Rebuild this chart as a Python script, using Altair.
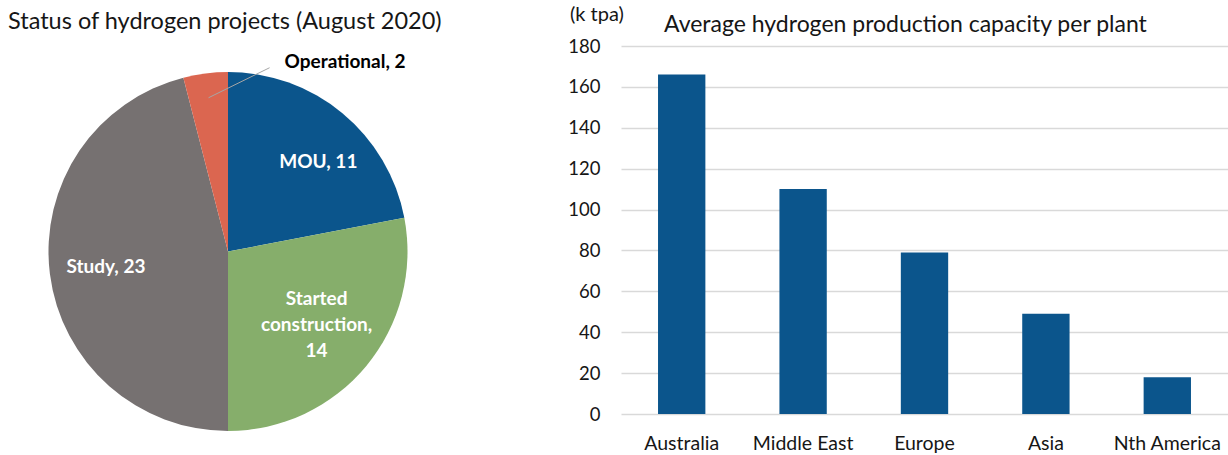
import altair as alt
import numpy as np
import pandas as pd

# ---- data -------------------------------------------------------------
statuses = ["MOU", "Started construction", "Study", "Operational"]
project_counts = [11, 14, 23, 2]
status_colors = ["#0B558C", "#86AE6B", "#767171", "#DB6650"]

regions = ["Australia", "Middle East", "Europe", "Asia", "Nth America"]
capacity_ktpa = [166, 110, 79, 49, 18]
y_ticks = [0, 20, 40, 60, 80, 100, 120, 140, 160, 180]

pie_title = "Status of hydrogen projects (August 2020)"
bar_title = "Average hydrogen production capacity per plant"
bar_unit = "(k tpa)"

# ---- layout -----------------------------------------------------------
FONT = "Lato"
TEXT = "#161616"
PLOT_LEFT, PLOT_TOP = 621, 46          # bar plot area origin on the page
PLOT_W, PLOT_H = 607, 368
PIE_CX, PIE_CY, PIE_R = 228, 251.5, 179.5


def px(x):
    return x - PLOT_LEFT


def py(y):
    return y - PLOT_TOP


def label_for(status, count):
    if status == "Started construction":
        return status.replace(" ", "\n") + ",\n" + str(count)
    return f"{status}, {count}"


pie_df = pd.DataFrame({
    "status": statuses,
    "count": project_counts,
    "order": list(range(len(statuses))),
    "label": [label_for(s, c) for s, c in zip(statuses, project_counts)],
})
bar_df = pd.DataFrame({"region": regions, "capacity": capacity_ktpa})
one_row = pd.DataFrame({"k": [0]})

total = float(sum(project_counts))

# ---- pie --------------------------------------------------------------
pie = alt.Chart(pie_df).mark_arc(outerRadius=PIE_R).encode(
    theta=alt.Theta("count:Q", stack=True),
    color=alt.Color("status:N",
                    scale=alt.Scale(domain=statuses, range=status_colors),
                    legend=None),
    order=alt.Order("order:Q"),
    x=alt.value(px(PIE_CX)),
    y=alt.value(py(PIE_CY)),
)


def slice_label(status, radius, dx=0, dy=0):
    """White bold label placed at the angular middle of one slice."""
    return (
        alt.Chart(pie_df)
        .transform_window(cum="sum(count)", sort=[alt.SortField("order")])
        .transform_calculate(mid="datum.cum - datum.count / 2")
        .transform_filter(alt.datum.status == status)
        .mark_text(radius=radius, dx=dx, dy=dy, font=FONT, fontSize=19,
                   fontWeight="bold", color="white", align="center",
                   baseline="middle", lineBreak="\n", lineHeight=26)
        .encode(
            theta=alt.Theta("mid:Q"),
            text="label:N",
            x=alt.value(px(PIE_CX)),
            y=alt.value(py(PIE_CY)),
        )
    )


labels = [
    slice_label("MOU", 126, dx=10, dy=8),
    # three-line label: shift up so the block is centred on the slice
    slice_label("Started construction", 115, dy=-26),
    slice_label("Study", 123),
]

# leader line + outside label for the small "Operational" slice
cum = np.cumsum(project_counts)
op_i = statuses.index("Operational")
op_mid = 2 * np.pi * (cum[op_i] - project_counts[op_i] / 2) / total
lead_x0 = PIE_CX + 155 * np.sin(op_mid)
lead_y0 = PIE_CY - 155 * np.cos(op_mid)
lead_x1, lead_y1 = lead_x0 + 61, lead_y0 - 30

leader = alt.Chart(one_row).mark_rule(color="#A6A6A6", strokeWidth=1).encode(
    x=alt.value(px(lead_x0)), y=alt.value(py(lead_y0)),
    x2=alt.value(px(lead_x1)), y2=alt.value(py(lead_y1)),
)
op_label = alt.Chart(one_row).mark_text(
    text=label_for("Operational", project_counts[op_i]),
    font=FONT, fontSize=19, fontWeight="bold", color="black",
    align="left", baseline="middle",
).encode(x=alt.value(px(lead_x1 + 15)), y=alt.value(py(lead_y1 - 6)))

# ---- bars -------------------------------------------------------------
bars = alt.Chart(bar_df).mark_bar(color="#0B558C").encode(
    x=alt.X("region:N", sort=regions, title=None,
            scale=alt.Scale(paddingInner=0.61, paddingOuter=0.305),
            axis=alt.Axis(labelAngle=0, ticks=False, domain=False, grid=False,
                          labelPadding=20, labelFontSize=19.5, labelFont=FONT,
                          labelColor=TEXT)),
    y=alt.Y("capacity:Q", title=None,
            scale=alt.Scale(domain=[0, 180], nice=False),
            axis=alt.Axis(values=y_ticks, ticks=False, domain=False, grid=True,
                          gridColor="#D9D9D9", gridWidth=1.5,
                          labelPadding=21, labelFontSize=18.5, labelFont=FONT,
                          labelColor=TEXT)),
)


def free_text(txt, x, y, size):
    return alt.Chart(one_row).mark_text(
        text=txt, font=FONT, fontSize=size, color=TEXT,
        align="left", baseline="middle",
    ).encode(x=alt.value(px(x)), y=alt.value(py(y)))


titles = [
    free_text(pie_title, 8, 22, 23.5),
    free_text(bar_title, 664, 25, 23),
    free_text(bar_unit, 570, 15, 20),
]

chart = alt.layer(pie, *labels, leader, op_label, bars, *titles).properties(
    width=PLOT_W,
    height=PLOT_H,
    padding={"left": PLOT_LEFT, "top": PLOT_TOP, "right": 0,
             "bottom": 455 - PLOT_TOP - PLOT_H},
    autosize="none",
    background="white",
).configure_view(strokeWidth=0)

chart.save("out.html", embed_options={"renderer": "svg", "actions": False})
